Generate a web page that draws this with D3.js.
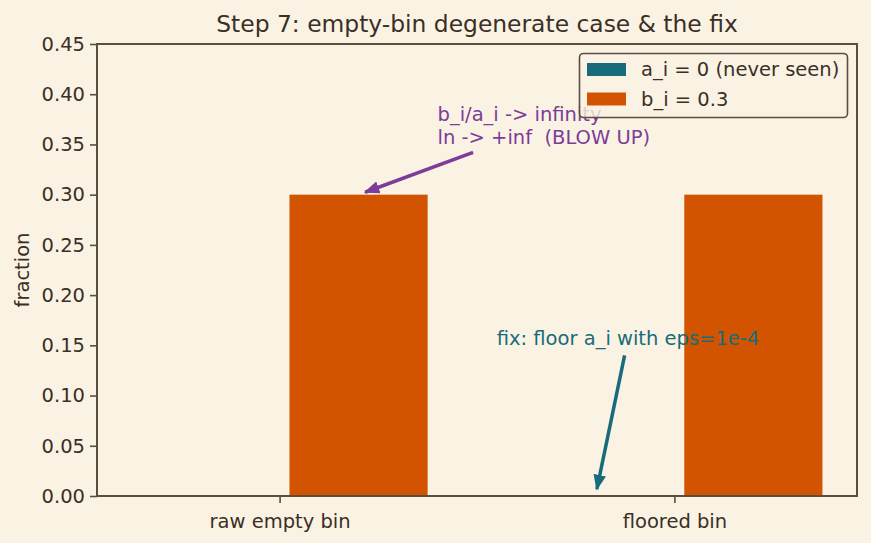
<!DOCTYPE html>
<html>
<head>
<meta charset="utf-8">
<script src="https://cdn.jsdelivr.net/npm/d3@7"></script>
<style>
  body { margin: 0; background: #faf3e4; }
  svg { display: block; }
  text { font-family: "DejaVu Sans", sans-serif; white-space: pre; }
</style>
</head>
<body>
<script>
    var categories = ["raw empty bin", "floored bin"];
    var aValues = [0, 0.0001];
    var bValues = [0.3, 0.3];
    var seriesNames = ["a_i = 0 (never seen)", "b_i = 0.3"];
    var yTicks = [0, 0.05, 0.1, 0.15, 0.2, 0.25, 0.3, 0.35, 0.4, 0.45];
    var notes = [
        { lines: ["b_i/a_i -> infinity", "ln -> +inf  (BLOW UP)"], xy: [0.2, 0.3], xytext: [0.4, 0.35], color: "#7d3c98" },
        { lines: ["fix: floor a_i with eps=1e-4"], xy: [0.8, 0.0001], xytext: [0.55, 0.15], color: "#176b7a" }
    ];

(function() {

    var width = 871,
        height = 543,
        plotLeft = 97,
        plotRight = 857,
        plotTop = 44,
        plotBottom = 496,
        barWidth = 0.35,
        ink = "#3a2f26",
        spine = "#5b4e3d",
        colors = ["#176b7a", "#d35400"];

    var svg = d3.select("body")
        .append("svg")
        .attr("width", width)
        .attr("height", height);

    svg.append("rect")
        .attr("width", width)
        .attr("height", height)
        .attr("fill", "#faf3e4");

    var x = d3.scaleLinear()
        .domain([-0.4625, 1.4625])
        .range([plotLeft, plotRight]);

    var y = d3.scaleLinear()
        .domain([0, 0.45])
        .range([plotBottom, plotTop]);

    // bars
    var series = [aValues, bValues];
    var offsets = [-0.2, 0.2];
    series.forEach(function(vals, s){
        svg.selectAll(".bar" + s)
            .data(vals)
            .enter()
            .append("rect")
            .attr("class", "bar" + s)
            .attr("x", function(d, i){ return x(i + offsets[s] - barWidth / 2); })
            .attr("width", x(barWidth) - x(0))
            .attr("y", function(d){ return y(d); })
            .attr("height", function(d){ return y(0) - y(d); })
            .attr("fill", colors[s]);
    });

    // axes
    var yAxis = svg.append("g")
        .attr("transform", "translate(" + plotLeft + ",0)")
        .call(d3.axisLeft(y).tickValues(yTicks).tickSize(7).tickPadding(5)
            .tickFormat(d3.format(".2f")));

    var xAxis = svg.append("g")
        .attr("transform", "translate(0," + plotBottom + ")")
        .call(d3.axisBottom(x).tickValues([0, 1]).tickSize(7).tickPadding(6)
            .tickFormat(function(d){ return categories[d]; }));

    [yAxis, xAxis].forEach(function(g){
        g.select(".domain").remove();
        g.selectAll("line").attr("stroke", spine).attr("stroke-width", 1.6);
        g.selectAll("text").attr("fill", ink).style("font-size", "19.5px");
    });
    xAxis.selectAll("text").attr("dy", "0.95em");

    svg.append("rect")
        .attr("x", plotLeft)
        .attr("y", plotTop)
        .attr("width", plotRight - plotLeft)
        .attr("height", plotBottom - plotTop)
        .attr("fill", "none")
        .attr("stroke", spine)
        .attr("stroke-width", 2);

    // labels
    svg.append("text")
        .attr("x", (plotLeft + plotRight) / 2)
        .attr("y", 32)
        .attr("text-anchor", "middle")
        .attr("fill", ink)
        .style("font-size", "23.4px")
        .text("Step 7: empty-bin degenerate case & the fix");

    svg.append("text")
        .attr("transform", "translate(29," + (plotTop + plotBottom) / 2 + ") rotate(-90)")
        .attr("text-anchor", "middle")
        .attr("fill", ink)
        .style("font-size", "19.5px")
        .text("fraction");

    // annotations
    var defs = svg.append("defs");
    notes.forEach(function(n, k){
        defs.append("marker")
            .attr("id", "head" + k)
            .attr("viewBox", "0 0 10 10")
            .attr("refX", 9)
            .attr("refY", 5)
            .attr("markerWidth", 4.5)
            .attr("markerHeight", 4.5)
            .attr("markerUnits", "strokeWidth")
            .attr("orient", "auto")
            .append("path")
            .attr("d", "M0,1 L10,5 L0,9 Z")
            .attr("fill", n.color);

        var t = svg.append("text")
            .attr("fill", n.color)
            .attr("xml:space", "preserve")
            .style("font-size", "19.5px");
        var nl = n.lines.length;
        n.lines.forEach(function(line, j){
            t.append("tspan")
                .attr("x", x(n.xytext[0]))
                .attr("y", y(n.xytext[1]) - (nl - 1 - j) * 23)
                .text(line);
        });

        var bb = t.node().getBBox();
        var cx = bb.x + bb.width / 2, cy = bb.y + bb.height / 2;
        var tx = x(n.xy[0]), ty = y(n.xy[1]);
        var dx = tx - cx, dy = ty - cy;
        var hw = bb.width / 2 + 2, hh = bb.height / 2 + 2;
        var s = Math.min(Math.abs(hw / dx), Math.abs(hh / dy));
        var len = Math.sqrt(dx * dx + dy * dy);
        var sx = cx + dx * s + dx / len * 3, sy = cy + dy * s + dy / len * 3;
        var ex = tx - dx / len * 7, ey = ty - dy / len * 7;

        svg.append("line")
            .attr("x1", sx).attr("y1", sy)
            .attr("x2", ex).attr("y2", ey)
            .attr("stroke", n.color)
            .attr("stroke-width", 3.5)
            .attr("marker-end", "url(#head" + k + ")");
    });

    // legend
    var legend = svg.append("g");
    legend.append("rect")
        .attr("x", 579.5)
        .attr("y", 53.5)
        .attr("width", 268)
        .attr("height", 64)
        .attr("rx", 4)
        .attr("fill", "#faf3e4")
        .attr("fill-opacity", 0.8)
        .attr("stroke", spine)
        .attr("stroke-width", 1.6);

    seriesNames.forEach(function(name, i){
        var cy = 69.5 + i * 29.5;
        legend.append("rect")
            .attr("x", 587)
            .attr("y", cy - 6.5)
            .attr("width", 39)
            .attr("height", 13)
            .attr("fill", colors[i]);
        legend.append("text")
            .attr("x", 641)
            .attr("y", cy)
            .attr("dy", "0.35em")
            .attr("fill", ink)
            .style("font-size", "19.5px")
            .text(name);
    });

})();
</script>
</body>
</html>
